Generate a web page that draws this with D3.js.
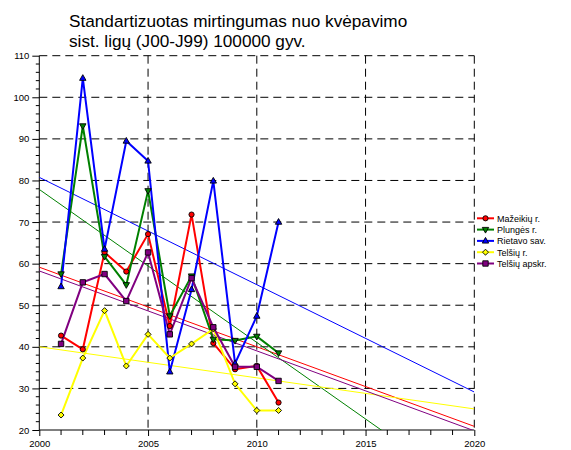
<!DOCTYPE html>
<html>
<head>
<meta charset="utf-8">
<script src="https://cdn.jsdelivr.net/npm/d3@7"></script>
<style>
  html, body { margin: 0; padding: 0; background: #fff; }
  svg { display: block; font-family: "Liberation Sans", Arial, sans-serif; }
</style>
</head>
<body>
<svg id="chart" width="571" height="450"></svg>
<script>
// ---- data ----
const years = [2001, 2002, 2003, 2004, 2005, 2006, 2007, 2008, 2009, 2010, 2011];
const mazeikiai = [42.7, 39.4, 62.7, 58.1, 67.1, 45.0, 71.8, 40.9, 34.6, 35.4, 26.6];
const plunge    = [57.5, 93.1, 61.7, 54.9, 77.5, 47.4, 57.0, 41.8, 41.5, 42.5, 38.5];
const rietavas  = [54.5, 104.6, 63.5, 89.5, 84.7, 34.0, 53.8, 79.9, 36.0, 47.4, 70.0];
const telsiaiR  = [23.6, 37.3, 48.7, 35.4, 43.0, 37.3, 40.7, 44.3, 31.1, 24.7, 24.7];
const telsiaiA  = [40.7, 55.5, 57.5, 51.0, 62.7, 43.0, 56.5, 44.7, 35.2, 35.2, 31.8];
const seriesNames = ["Mažeikių r.", "Plungės r.", "Rietavo sav.", "Telšių r.", "Telšių apskr."];
const seriesColors = ["#ff0000", "#008000", "#0000ff", "#ffff00", "#800080"];
const seriesMarkers = ["circle", "triDown", "triUp", "diamond", "square"];
const yTicks = [20, 30, 40, 50, 60, 70, 80, 90, 100, 110];
const xTicks = [2000, 2005, 2010, 2015, 2020];
const titleLines = ["Standartizuotas mirtingumas nuo kvėpavimo", "sist. ligų (J00-J99) 100000 gyv."];

const seriesValues = [mazeikiai, plunge, rietavas, telsiaiR, telsiaiA];

// ---- layout ----
const svg = d3.select("#chart");
const L = 39.3, R = 474.3, T = 55.7, B = 430;
const x = d3.scaleLinear().domain([2000, 2020]).range([L, R]);
const y = d3.scaleLinear().domain([20, 110]).range([B, T]);

// title
svg.append("g").selectAll("text").data(titleLines).join("text")
  .attr("x", 69).attr("y", (d, i) => 27.3 + i * 20)
  .attr("font-size", 17.2).attr("fill", "#000").text(d => d);

// grid
const grid = svg.append("g").attr("stroke", "#000").attr("stroke-width", 1)
  .attr("stroke-dasharray", "8,5").attr("fill", "none");
grid.selectAll("line.h").data(yTicks.filter(v => v > 20)).join("line")
  .attr("x1", L).attr("x2", R).attr("y1", d => y(d)).attr("y2", d => y(d));
grid.selectAll("line.v").data(xTicks.filter(v => v > 2000)).join("line")
  .attr("class", "v")
  .attr("y1", T).attr("y2", B).attr("x1", d => x(d)).attr("x2", d => x(d));

// axes
const minorY = d3.range(20, 110.01, 2);
const yAxis = svg.append("g").attr("transform", `translate(${L},0)`)
  .call(d3.axisLeft(y).tickValues(yTicks).tickSize(7).tickPadding(3));
yAxis.selectAll("text").attr("font-size", 9.5).attr("font-family", "Liberation Sans, Arial, sans-serif").attr("fill", "#000");
yAxis.append("g").selectAll("line").data(minorY.filter(v => !yTicks.includes(v))).join("line")
  .attr("x1", -3.5).attr("x2", 0).attr("y1", d => y(d)).attr("y2", d => y(d)).attr("stroke", "#000");
yAxis.select(".domain").attr("d", `M0,${B}V${T}`);

const minorX = d3.range(2000, 2020.01, 1);
const xAxis = svg.append("g").attr("transform", `translate(0,${B})`)
  .call(d3.axisBottom(x).tickValues(xTicks).tickSize(6).tickPadding(4).tickFormat(d3.format("d")));
xAxis.selectAll("text").attr("font-size", 9.5).attr("font-family", "Liberation Sans, Arial, sans-serif").attr("fill", "#000");
xAxis.append("g").selectAll("line").data(minorX.filter(v => !xTicks.includes(v))).join("line")
  .attr("y1", 0).attr("y2", 5).attr("x1", d => x(d)).attr("x2", d => x(d)).attr("stroke", "#000");
xAxis.select(".domain").attr("d", `M${L},0H${R}`);

// clip for trend lines
svg.append("clipPath").attr("id", "plotclip").append("rect")
  .attr("x", L).attr("y", T).attr("width", R - L).attr("height", B - T);

// trend lines (least squares over the data)
function fit(vals) {
  const mx = d3.mean(years), my = d3.mean(vals);
  let num = 0, den = 0;
  years.forEach((yr, i) => { num += (yr - mx) * (vals[i] - my); den += (yr - mx) * (yr - mx); });
  const b = num / den;
  return xv => my + b * (xv - mx);
}
const trendG = svg.append("g").attr("clip-path", "url(#plotclip)");
seriesValues.forEach((vals, si) => {
  const f = fit(vals);
  trendG.append("line")
    .attr("x1", x(2000)).attr("y1", y(f(2000)))
    .attr("x2", x(2020)).attr("y2", y(f(2020)))
    .attr("stroke", seriesColors[si]).attr("stroke-width", 1);
});

// marker drawing
function markerPath(type, cx, cy) {
  const s = 3;
  switch (type) {
    case "triUp": return `M${cx},${cy - 3.5}L${cx + 3.2},${cy + 2.2}L${cx - 3.2},${cy + 2.2}Z`;
    case "triDown": return `M${cx},${cy + 3.5}L${cx + 3.2},${cy - 2.2}L${cx - 3.2},${cy - 2.2}Z`;
    case "diamond": return `M${cx},${cy - s}L${cx + s},${cy}L${cx},${cy + s}L${cx - s},${cy}Z`;
    case "square": return `M${cx - 2.7},${cy - 2.7}h5.4v5.4h-5.4Z`;
    default: return null;
  }
}
function drawMarker(g, type, cx, cy, color) {
  if (type === "circle") {
    g.append("circle").attr("cx", cx).attr("cy", cy).attr("r", 2.6)
      .attr("fill", color).attr("stroke", "#000").attr("stroke-width", 0.9);
  } else {
    g.append("path").attr("d", markerPath(type, cx, cy))
      .attr("fill", color).attr("stroke", "#000").attr("stroke-width", 0.9);
  }
}

// series lines
const line = d3.line().x((d, i) => x(years[i])).y(d => y(d));
const seriesG = svg.append("g");
seriesValues.forEach((vals, si) => {
  seriesG.append("path").datum(vals).attr("d", line)
    .attr("fill", "none").attr("stroke", seriesColors[si]).attr("stroke-width", 2)
    .attr("stroke-linejoin", "miter");
});
seriesValues.forEach((vals, si) => {
  const g = seriesG.append("g");
  vals.forEach((v, i) => drawMarker(g, seriesMarkers[si], x(years[i]), y(v), seriesColors[si]));
});

// legend
const lg = svg.append("g");
seriesNames.forEach((name, i) => {
  const ly = 218.3 + i * 11.3;
  lg.append("line").attr("x1", 477).attr("x2", 494).attr("y1", ly).attr("y2", ly)
    .attr("stroke", seriesColors[i]).attr("stroke-width", 2);
  drawMarker(lg, seriesMarkers[i], 485.5, ly, seriesColors[i]);
  lg.append("text").attr("x", 497).attr("y", ly + 3.3).attr("font-size", 9)
    .attr("fill", "#000").text(name);
});
</script>
</body>
</html>
